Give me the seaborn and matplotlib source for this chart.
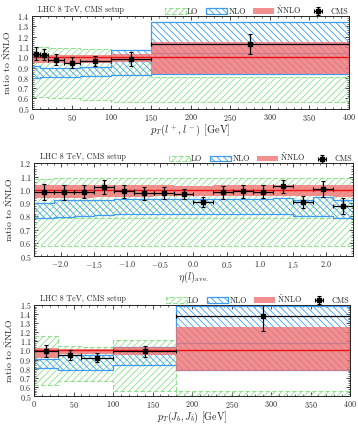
import numpy as np
import matplotlib
matplotlib.use("Agg")
import matplotlib.pyplot as plt
from matplotlib.ticker import MultipleLocator
from matplotlib.patches import Patch
import seaborn as sns

sns.set_style("ticks")
plt.rcParams['font.family'] = ['cmr10', 'DejaVu Serif']
plt.rcParams['mathtext.fontset'] = 'cm'
plt.rcParams['axes.formatter.use_mathtext'] = True
plt.rcParams['axes.unicode_minus'] = True
plt.rcParams['hatch.linewidth'] = 0.6

# ---------------- data ----------------
# Panel 1: pT(l+, l-)
p1_edges = [0, 10, 20, 40, 60, 100, 150, 400]
p1_lo_lo = [0.61, 0.61, 0.60, 0.60, 0.59, 0.567, 0.567]
p1_lo_hi = [1.095, 1.095, 1.09, 1.085, 1.075, 0.97, 0.81]
p1_nlo_lo = [0.795, 0.81, 0.81, 0.81, 0.813, 0.826, 0.835]
p1_nlo_hi = [0.913, 0.90, 0.90, 0.90, 0.906, 1.068, 1.34]
p1_nlo_c = [np.nan, np.nan, np.nan, np.nan, np.nan, np.nan, 1.045]
p1_nnlo_lo = [0.94, 0.94, 0.94, 0.94, 0.945, 0.95, 0.835]
p1_nnlo_hi = [1.03, 1.03, 1.025, 1.025, 1.025, 1.03, 1.148]
p1_x = [5, 15, 30, 50, 80, 125, 275]
p1_xerr = [5, 5, 10, 10, 20, 25, 125]
p1_y = [1.035, 1.026, 0.977, 0.948, 0.96, 0.983, 1.126]
p1_yerr = [0.065, 0.05, 0.05, 0.05, 0.047, 0.065, 0.095]

# Panel 2: eta(l)_ave
p2_edges = [-2.4, -2.1, -1.8, -1.5, -1.2, -0.9, -0.6, -0.3, 0.0,
            0.3, 0.6, 0.9, 1.2, 1.5, 1.8, 2.1, 2.4]
p2_lo_lo = [0.575, 0.576, 0.576, 0.578, 0.578, 0.578, 0.578, 0.578,
            0.578, 0.578, 0.578, 0.578, 0.578, 0.576, 0.576, 0.575]
p2_lo_hi = [1.085, 1.086, 1.086, 1.087, 1.087, 1.087, 1.087, 1.087,
            1.087, 1.087, 1.087, 1.088, 1.088, 1.088, 1.09, 1.09]
p2_lo_c = [0.787, 0.787, 0.787, 0.787, 0.787, 0.787, 0.787, 0.787,
           0.787, 0.787, 0.787, 0.787, 0.787, 0.787, 0.787, 0.787]
p2_nlo_lo = [0.785, 0.795, 0.805, 0.81, 0.815, 0.82, 0.82, 0.82,
             0.82, 0.82, 0.82, 0.82, 0.82, 0.805, 0.80, 0.79]
p2_nlo_hi = [0.90, 0.92, 0.925, 0.925, 0.93, 0.93, 0.93, 0.93,
             0.93, 0.93, 0.93, 0.93, 0.94, 0.92, 0.945, 0.925]
p2_nnlo_lo = [0.94, 0.94, 0.94, 0.945, 0.945, 0.945, 0.95, 0.95,
              0.955, 0.95, 0.95, 0.95, 0.95, 0.95, 0.95, 0.945]
p2_nnlo_hi = [1.035, 1.035, 1.035, 1.04, 1.04, 1.035, 1.035, 1.03,
              1.03, 1.035, 1.035, 1.035, 1.04, 1.035, 1.035, 1.035]
p2_x = [-2.25, -1.95, -1.65, -1.35, -1.05, -0.75, -0.45, -0.15,
        0.15, 0.45, 0.75, 1.05, 1.35, 1.65, 1.95, 2.25]
p2_xerr = [0.15] * 16
p2_y = [0.982, 0.98, 0.985, 1.022, 0.99, 0.973, 0.973, 0.968,
        0.908, 0.982, 0.99, 0.985, 1.027, 0.908, 1.007, 0.875]
p2_yerr = [0.06, 0.055, 0.05, 0.055, 0.05, 0.05, 0.045, 0.035,
           0.035, 0.05, 0.05, 0.05, 0.05, 0.045, 0.06, 0.06]

# Panel 3: pT(J_b, J_bbar)
p3_edges = [0, 30, 60, 100, 180, 400]
p3_lo_lo = [0.62, 0.66, 0.66, 0.56, 0.40]
p3_lo_hi = [1.157, 1.045, 1.04, 1.11, 0.56]
p3_nlo_lo = [0.81, 0.79, 0.79, 0.836, 0.79]
p3_nlo_hi = [0.91, 0.945, 0.945, 1.036, 1.486]
p3_nlo_c = [np.nan, np.nan, np.nan, np.nan, 1.078]
p3_nnlo_lo = [0.92, 0.96, 0.96, 0.945, 0.77]
p3_nnlo_hi = [1.03, 1.02, 1.02, 1.036, 1.262]
p3_x = [15, 45, 80, 140, 290]
p3_xerr = [15, 15, 20, 40, 110]
p3_y = [0.99, 0.945, 0.92, 0.99, 1.38]
p3_yerr = [0.065, 0.055, 0.05, 0.06, 0.17]

C_LO = '#8ee08e'
C_NLO = '#3d9bf0'
C_NNLO = '#f27070'
H_LO = '/////'
H_NLO = '\\\\\\\\\\'

fig = plt.figure(figsize=(3.58, 4.25), dpi=100)


def band(ax, edges, lo, hi, color, hatch, ls, lw, z):
    lo = np.asarray(lo, float)
    hi = np.asarray(hi, float)
    lo_ext = np.append(lo, lo[-1])
    hi_ext = np.append(hi, hi[-1])
    ax.fill_between(edges, lo_ext, hi_ext, step='post', facecolor='none',
                    edgecolor=color, hatch=hatch, linewidth=0, zorder=z)
    ax.stairs(hi, edges, baseline=None, color=color, linestyle=ls,
              linewidth=lw, zorder=z)
    ax.stairs(lo, edges, baseline=None, color=color, linestyle=ls,
              linewidth=lw, zorder=z)


def draw_panel(ax, edges, lo_lo, lo_hi, nlo_lo, nlo_hi, nnlo_lo, nnlo_hi,
               x, xerr, y, yerr, lo_c=None, nlo_c=None):
    edges = np.asarray(edges, float)
    left = edges[:-1]
    right = edges[1:]
    band(ax, edges, lo_lo, lo_hi, C_LO, H_LO, (0, (4, 2)), 0.8, 1)
    if lo_c is not None:
        ax.hlines(lo_c, left, right, colors=C_LO, linestyles=(0, (4, 2)),
                  linewidth=0.8, zorder=1)
    band(ax, edges, nlo_lo, nlo_hi, C_NLO, H_NLO, '-', 0.9, 2)
    if nlo_c is not None:
        ax.hlines(nlo_c, left, right, colors=C_NLO, linewidth=0.9, zorder=2)
    nnlo_lo = np.asarray(nnlo_lo, float)
    nnlo_hi = np.asarray(nnlo_hi, float)
    ax.fill_between(edges, np.append(nnlo_lo, nnlo_lo[-1]),
                    np.append(nnlo_hi, nnlo_hi[-1]), step='post',
                    color=C_NNLO, alpha=0.78, linewidth=0, zorder=3)
    ax.hlines(np.ones(len(left)), left, right, colors='#ee1111',
              linewidth=1.0, zorder=4)
    eb = ax.errorbar(x, y, xerr=xerr, yerr=yerr, fmt='s', color='black',
                     markersize=2.4, elinewidth=0.9, capsize=1.3,
                     capthick=0.8, zorder=6, label='CMS')
    ax.set_xlim(edges[0], edges[-1])
    ax.tick_params(which='both', direction='in', top=True, right=True,
                   labelsize=5.8, pad=2)
    ax.tick_params(which='major', length=3, width=0.6)
    ax.tick_params(which='minor', length=1.6, width=0.5)
    for s in ax.spines.values():
        s.set_linewidth(0.7)
        s.set_zorder(10)
    ax.yaxis.set_major_locator(MultipleLocator(0.1))
    ax.yaxis.set_minor_locator(MultipleLocator(0.02))
    ax.set_ylabel(r'ratio to $\tilde{\rm N}$NLO', fontsize=7.0, labelpad=3)
    ax.text(0.02, 1.025, 'LHC 8 TeV, CMS setup', transform=ax.transAxes,
            fontsize=5.8, ha='left', va='bottom')
    handles = [Patch(facecolor='none', edgecolor=C_LO, hatch=H_LO,
                     linestyle=(0, (4, 2)), linewidth=0.8),
               Patch(facecolor='none', edgecolor=C_NLO, hatch=H_NLO,
                     linewidth=0.9),
               Patch(facecolor=C_NNLO, alpha=0.78, linewidth=0),
               eb]
    labels = ['LO', 'NLO', r'$\tilde{\rm N}$NLO', 'CMS']
    ax.legend(handles, labels, loc='lower right', bbox_to_anchor=(1.0, 0.99),
              ncol=4, frameon=False, fontsize=5.8, handlelength=2.6,
              handleheight=0.7, handletextpad=0.2, columnspacing=0.9,
              borderpad=0.1, borderaxespad=0.0)


ax1 = fig.add_axes([0.0894, 0.744, 0.8855, 0.2186])
draw_panel(ax1, p1_edges, p1_lo_lo, p1_lo_hi, p1_nlo_lo, p1_nlo_hi,
           p1_nnlo_lo, p1_nnlo_hi, p1_x, p1_xerr, p1_y, p1_yerr,
           nlo_c=p1_nlo_c)
ax1.set_ylim(0.5, 1.4)
ax1.xaxis.set_major_locator(MultipleLocator(50))
ax1.xaxis.set_minor_locator(MultipleLocator(10))
ax1.set_xlabel(r'$p_T(l^+,l^-)$ [GeV]', fontsize=7.5, labelpad=0)

ax2 = fig.add_axes([0.095, 0.3976, 0.891, 0.2181])
draw_panel(ax2, p2_edges, p2_lo_lo, p2_lo_hi, p2_nlo_lo, p2_nlo_hi,
           p2_nnlo_lo, p2_nnlo_hi, p2_x, p2_xerr, p2_y, p2_yerr,
           lo_c=p2_lo_c)
ax2.set_ylim(0.5, 1.2)
ax2.xaxis.set_major_locator(MultipleLocator(0.5))
ax2.xaxis.set_minor_locator(MultipleLocator(0.1))
ax2.set_xlabel(r'$\eta(l)_{\rm ave.}$', fontsize=7.5, labelpad=0)

ax3 = fig.add_axes([0.095, 0.068, 0.8827, 0.2148])
draw_panel(ax3, p3_edges, p3_lo_lo, p3_lo_hi, p3_nlo_lo, p3_nlo_hi,
           p3_nnlo_lo, p3_nnlo_hi, p3_x, p3_xerr, p3_y, p3_yerr,
           nlo_c=p3_nlo_c)
ax3.set_ylim(0.5, 1.5)
ax3.xaxis.set_major_locator(MultipleLocator(50))
ax3.xaxis.set_minor_locator(MultipleLocator(10))
ax3.set_xlabel(r'$p_T(J_b,J_{\bar{b}})$ [GeV]', fontsize=7.2, labelpad=0)

fig.savefig('out.png', dpi=100)
